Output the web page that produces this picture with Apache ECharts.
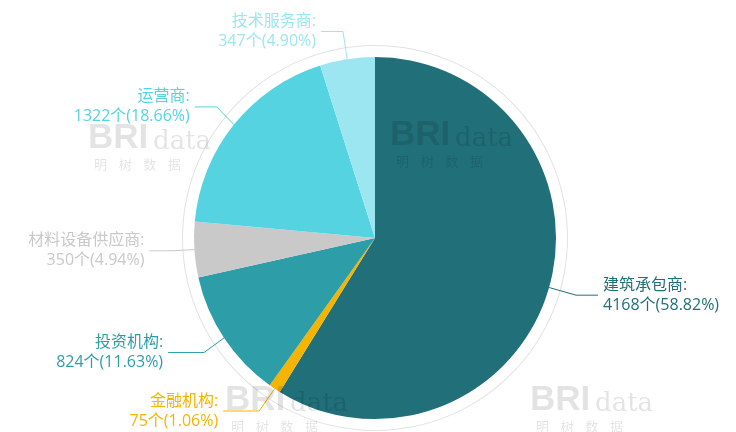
<!DOCTYPE html>
<html>
<head>
<meta charset="utf-8">
<style>
  html, body { margin: 0; padding: 0; background: #fff; }
  #chart { width: 736px; height: 432px; }
</style>
<script src="https://cdn.jsdelivr.net/npm/echarts@6/dist/echarts.min.js"></script>
</head>
<body>
<div id="chart"></div>
<script>
// 数据
var categories = ['建筑承包商', '金融机构', '投资机构', '材料设备供应商', '运营商', '技术服务商'];
var values = [4168, 75, 824, 350, 1322, 347];
var colors = ['#216f78', '#f4b400', '#2d9ea7', '#c9c9c9', '#56d3e0', '#9be6f0'];

var total = values.reduce(function (a, b) { return a + b; }, 0);

var myChart = echarts.init(document.getElementById('chart'));

// 水印 (明树数据)
function watermark(x, y) {
  return [
    { type: 'text', left: x, top: y, z: 100, silent: true,
      style: { text: 'BRI', fontSize: 35, fontWeight: 'bold', fontFamily: 'Arial', fill: 'rgba(0,0,0,0.11)' } },
    { type: 'text', left: x + 65, top: y + 8, z: 100, silent: true,
      style: { text: 'data', fontSize: 26, fontFamily: 'DejaVu Serif', fill: 'rgba(0,0,0,0.11)' } },
    { type: 'text', left: x + 6, top: y + 37, z: 100, silent: true,
      style: { text: '明    树    数    据', fontSize: 13, fontFamily: 'Noto Sans CJK SC', fill: 'rgba(0,0,0,0.11)' } }
  ];
}
var marks = [].concat(watermark(88, 121), watermark(390, 118), watermark(225, 383), watermark(530, 383));

var pieData = categories.map(function (name, i) {
  var item = {
    name: name,
    value: values[i],
    itemStyle: { color: colors[i] },
    label: { color: colors[i] }
  };
  if (name === '金融机构' || name === '投资机构') {
    item.labelLine = { length2: 36 };
  }
  return item;
});

var option = {
  backgroundColor: '#fff',
  graphic: marks,
  series: [
    { // 外圈细线
      type: 'pie',
      center: [375, 238],
      radius: [192, 193],
      silent: true,
      z: 1,
      label: { show: false },
      labelLine: { show: false },
      itemStyle: { color: '#e2e2e2' },
      data: [{ value: 1, name: '' }]
    },
    {
      type: 'pie',
      center: [375, 238],
      radius: [0, 181],
      startAngle: 90,
      z: 2,
      avoidLabelOverlap: true,
      label: {
        show: true,
        formatter: function (p) {
          return p.name + ':\n' + p.value + '个(' + (p.value / total * 100).toFixed(2) + '%)';
        },
        fontSize: 16,
        lineHeight: 20,
        fontFamily: "'Open Sans', 'Noto Sans CJK SC'"
      },
      labelLine: {
        show: true,
        length: 28,
        length2: 22,
        lineStyle: { width: 1 }
      },
      data: pieData
    }
  ]
};

myChart.setOption(option);
</script>
</body>
</html>
